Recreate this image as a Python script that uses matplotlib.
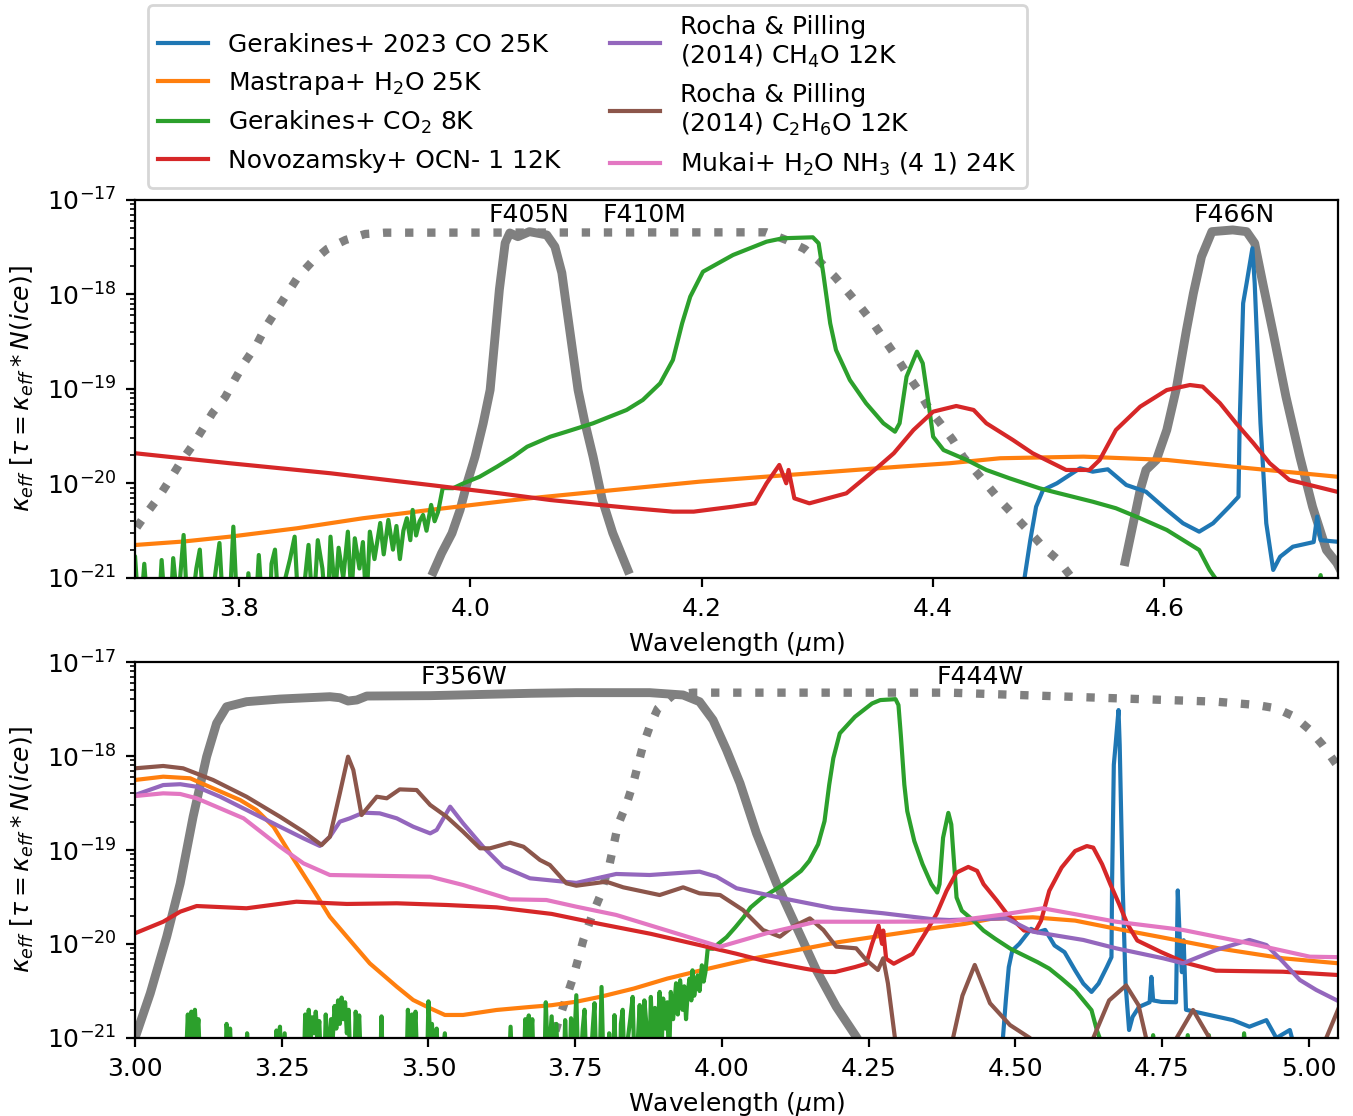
import numpy as np
import matplotlib
matplotlib.use("Agg")
import matplotlib.pyplot as plt

plt.rcParams['font.size'] = 9
plt.rcParams['xtick.major.size'] = 3.2
plt.rcParams['ytick.major.size'] = 3.2
plt.rcParams['ytick.minor.size'] = 1.8

# ---- data: (wavelength [um], log10 kappa_eff) ----
co = np.array([
    (4.47, -21.5), (4.479, -21.0), (4.484, -20.598), (4.489, -20.246), (4.495, -20.069),
    (4.507, -19.998), (4.518, -19.91), (4.527, -19.839), (4.538, -19.875), (4.551, -19.85),
    (4.567, -20.016), (4.584, -20.087), (4.602, -20.28), (4.616, -20.421), (4.630, -20.51),
    (4.642, -20.421), (4.656, -20.246), (4.664, -20.14), (4.665, -19.363), (4.668, -18.093),
    (4.671, -17.881), (4.676, -17.511), (4.678, -17.881), (4.683, -19.363), (4.688, -20.421),
    (4.694, -20.915), (4.700, -20.775), (4.711, -20.669), (4.729, -20.62), (4.732, -20.35),
    (4.735, -20.60), (4.749, -20.616), (4.774, -20.62), (4.777, -19.43), (4.781, -20.05),
    (4.784, -20.3), (4.787, -19.96), (4.791, -20.70), (4.82, -20.74), (4.871, -20.81),
    (4.899, -20.88), (4.928, -20.81), (4.945, -21.0), (4.968, -20.915), (4.98, -21.2),
    (5.05, -21.4)])

h2o = np.array([
    (3.00, -18.255), (3.048, -18.22), (3.094, -18.237), (3.133, -18.344), (3.179, -18.468),
    (3.207, -18.574), (3.236, -18.752), (3.264, -19.035), (3.304, -19.426), (3.332, -19.71),
    (3.361, -19.922), (3.40, -20.206), (3.423, -20.33), (3.446, -20.454), (3.474, -20.596),
    (3.503, -20.684), (3.528, -20.755), (3.559, -20.755), (3.616, -20.702), (3.673, -20.67),
    (3.71, -20.651), (3.752, -20.614), (3.792, -20.563), (3.850, -20.474), (3.907, -20.368),
    (3.965, -20.28), (4.025, -20.193), (4.051, -20.157), (4.198, -19.981), (4.313, -19.875),
    (4.371, -19.822), (4.414, -19.786), (4.458, -19.733), (4.530, -19.716), (4.602, -19.751),
    (4.659, -19.822), (4.749, -19.928), (4.85, -20.05), (4.956, -20.152), (5.05, -20.205)])

co2 = np.array([
    (3.00, -21.5), (3.085, -21.5), (3.09, -20.75), (3.093, -21.3), (3.096, -20.72), (3.099, -21.2),
    (3.102, -20.70), (3.105, -21.0), (3.108, -20.80), (3.112, -21.5), (3.153, -21.5), (3.156, -20.85),
    (3.159, -21.1), (3.162, -20.9), (3.166, -21.5), (3.188, -21.5), (3.191, -20.95), (3.194, -21.5),
    (3.238, -21.5), (3.241, -20.92), (3.244, -21.2), (3.247, -20.88), (3.25, -21.5), (3.255, -20.95),
    (3.258, -21.5), (3.287, -21.5), (3.29, -20.75), (3.293, -21.1), (3.296, -20.70), (3.299, -21.0),
    (3.302, -20.78), (3.305, -20.95), (3.308, -20.72), (3.311, -21.0), (3.314, -20.82), (3.318, -21.5),
    (3.322, -21.5), (3.325, -20.75), (3.329, -21.3), (3.334, -20.8), (3.337, -21.0), (3.34, -20.66),
    (3.343, -20.9), (3.346, -20.6), (3.349, -20.85), (3.352, -20.57), (3.355, -20.8), (3.358, -20.62),
    (3.361, -20.95), (3.364, -20.7), (3.368, -21.5), (3.373, -21.5), (3.376, -20.72), (3.379, -21.0),
    (3.382, -20.76), (3.386, -21.5), (3.417, -21.5), (3.42, -20.77), (3.423, -21.5), (3.462, -21.5),
    (3.465, -20.7), (3.468, -21.1), (3.472, -20.75), (3.475, -21.0), (3.478, -20.72), (3.482, -21.5),
    (3.497, -21.5), (3.50, -20.61), (3.503, -21.0), (3.506, -20.85), (3.51, -21.3), (3.514, -20.9),
    (3.518, -21.5), (3.528, -20.95), (3.532, -21.5), (3.636, -21.5), (3.64, -20.88), (3.644, -21.5),
    (3.662, -21.5), (3.665, -20.8), (3.668, -21.0), (3.671, -20.76), (3.674, -21.0), (3.677, -20.8),
    (3.68, -21.5), (3.697, -21.5), (3.70, -20.62), (3.704, -21.3), (3.71, -20.77), (3.714, -21.5),
    (3.718, -20.85), (3.722, -21.5), (3.730, -21.5), (3.733, -20.81), (3.737, -21.5), (3.740, -21.5),
    (3.743, -20.79), (3.747, -21.3), (3.752, -20.545), (3.756, -21.5), (3.760, -21.2), (3.763, -20.9),
    (3.766, -20.70), (3.769, -21.3), (3.774, -21.5), (3.78, -20.9), (3.783, -20.63), (3.787, -21.5),
    (3.791, -21.5), (3.795, -20.457), (3.799, -21.5), (3.805, -21.5), (3.808, -20.95), (3.812, -21.5),
    (3.815, -21.2), (3.817, -20.757), (3.821, -21.5), (3.826, -21.5), (3.828, -20.85), (3.831, -20.70),
    (3.835, -21.5), (3.84, -21.0), (3.844, -20.8), (3.848, -20.563), (3.852, -21.5), (3.857, -21.0),
    (3.86, -20.65), (3.864, -21.4), (3.868, -20.60), (3.872, -20.9), (3.876, -21.5), (3.879, -20.563),
    (3.883, -21.2), (3.886, -20.68), (3.89, -21.0), (3.894, -20.51), (3.897, -21.2), (3.90, -20.58),
    (3.904, -20.9), (3.907, -20.62), (3.91, -21.3), (3.913, -20.51), (3.917, -20.8), (3.922, -20.418),
    (3.925, -20.75), (3.929, -20.386), (3.933, -20.7), (3.936, -20.45), (3.939, -20.8), (3.942, -20.5),
    (3.945, -20.368), (3.948, -20.6), (3.950, -20.28), (3.953, -20.55), (3.956, -20.4), (3.959, -20.333),
    (3.962, -20.5), (3.966, -20.227), (3.969, -20.4), (3.972, -20.3), (3.976, -20.048), (3.985, -20.05),
    (3.994, -19.998), (4.008, -19.928), (4.023, -19.822), (4.037, -19.716), (4.049, -19.611),
    (4.069, -19.505), (4.083, -19.452), (4.106, -19.363), (4.135, -19.222), (4.149, -19.116),
    (4.164, -18.94), (4.175, -18.693), (4.183, -18.305), (4.190, -18.023), (4.201, -17.759),
    (4.227, -17.582), (4.256, -17.441), (4.270, -17.405), (4.296, -17.395), (4.301, -17.458),
    (4.305, -17.776), (4.311, -18.305), (4.316, -18.587), (4.328, -18.905), (4.342, -19.151),
    (4.357, -19.363), (4.367, -19.452), (4.371, -19.363), (4.377, -18.87), (4.386, -18.605),
    (4.391, -18.728), (4.396, -19.151), (4.400, -19.505), (4.409, -19.646), (4.429, -19.751),
    (4.446, -19.857), (4.466, -19.945), (4.492, -20.051), (4.509, -20.104), (4.538, -20.193),
    (4.558, -20.262), (4.579, -20.368), (4.602, -20.492), (4.616, -20.598), (4.630, -20.704),
    (4.639, -20.915), (4.645, -21.02), (4.65, -21.1), (4.66, -21.3), (4.70, -21.3), (4.732, -21.1),
    (4.735, -20.97), (4.738, -21.2), (4.79, -21.2), (4.794, -20.97), (4.798, -21.2), (4.828, -21.2),
    (4.83, -20.97), (4.835, -21.3), (4.887, -21.3), (4.89, -20.95), (4.895, -21.3), (5.05, -21.4)])

ocn = np.array([
    (3.00, -19.886), (3.048, -19.763), (3.077, -19.656), (3.105, -19.596), (3.19, -19.62),
    (3.275, -19.55), (3.361, -19.574), (3.446, -19.567), (3.531, -19.585), (3.616, -19.61),
    (3.71, -19.68), (3.792, -19.786), (3.879, -19.892), (3.965, -20.016), (4.025, -20.104),
    (4.069, -20.175), (4.112, -20.228), (4.141, -20.262), (4.175, -20.298), (4.193, -20.298),
    (4.227, -20.245), (4.246, -20.21), (4.256, -19.998), (4.267, -19.804), (4.273, -19.998),
    (4.275, -19.857), (4.28, -20.157), (4.293, -20.21), (4.325, -20.104), (4.351, -19.84),
    (4.366, -19.68), (4.383, -19.434), (4.40, -19.24), (4.42, -19.18), (4.435, -19.222),
    (4.446, -19.363), (4.469, -19.54), (4.486, -19.68), (4.515, -19.857), (4.535, -19.857),
    (4.544, -19.751), (4.558, -19.434), (4.579, -19.187), (4.602, -19.011), (4.622, -18.958),
    (4.633, -18.975), (4.648, -19.151), (4.662, -19.363), (4.677, -19.575), (4.691, -19.786),
    (4.708, -19.963), (4.749, -20.087), (4.79, -20.20), (4.842, -20.284), (4.956, -20.295),
    (5.05, -20.33)])

ch4o = np.array([
    (3.00, -18.415), (3.048, -18.309), (3.077, -18.30), (3.105, -18.327), (3.145, -18.433),
    (3.19, -18.574), (3.247, -18.752), (3.287, -18.876), (3.315, -18.957), (3.332, -18.859),
    (3.349, -18.699), (3.366, -18.663), (3.389, -18.603), (3.417, -18.61), (3.446, -18.663),
    (3.474, -18.752), (3.503, -18.823), (3.514, -18.787), (3.537, -18.539), (3.559, -18.716),
    (3.593, -18.965), (3.627, -19.178), (3.673, -19.301), (3.752, -19.35), (3.82, -19.255),
    (3.877, -19.266), (3.962, -19.23), (3.991, -19.284), (4.025, -19.407), (4.104, -19.514),
    (4.19, -19.62), (4.275, -19.673), (4.36, -19.737), (4.388, -19.745), (4.485, -19.727),
    (4.530, -19.869), (4.616, -19.957), (4.672, -20.046), (4.752, -20.152), (4.786, -20.205),
    (4.842, -20.064), (4.899, -19.957), (4.928, -20.011), (4.956, -20.188), (4.985, -20.383),
    (5.013, -20.489), (5.047, -20.596)])

c2h6o = np.array([
    (3.00, -18.131), (3.048, -18.106), (3.082, -18.131), (3.133, -18.255), (3.19, -18.433),
    (3.247, -18.646), (3.287, -18.805), (3.318, -18.947), (3.332, -18.859), (3.349, -18.397),
    (3.363, -18.007), (3.372, -18.149), (3.386, -18.628), (3.412, -18.433), (3.429, -18.45),
    (3.451, -18.355), (3.48, -18.362), (3.503, -18.521), (3.531, -18.646), (3.559, -18.805),
    (3.588, -18.982), (3.605, -18.982), (3.639, -18.922), (3.662, -18.965), (3.69, -19.106),
    (3.707, -19.16), (3.735, -19.354), (3.752, -19.38), (3.803, -19.337), (3.832, -19.397),
    (3.894, -19.479), (3.934, -19.397), (3.962, -19.461), (3.997, -19.479), (4.036, -19.638),
    (4.07, -19.851), (4.099, -19.922), (4.121, -19.816), (4.15, -19.727), (4.173, -19.851),
    (4.195, -20.028), (4.229, -20.046), (4.246, -20.17), (4.266, -20.277), (4.275, -20.152),
    (4.283, -20.418), (4.295, -21.0), (4.31, -21.6), (4.38, -21.6), (4.394, -21.0),
    (4.41, -20.55), (4.431, -20.223), (4.457, -20.63), (4.491, -20.862), (4.525, -21.0),
    (4.54, -21.6), (4.62, -21.6), (4.633, -21.0), (4.66, -20.6), (4.689, -20.44), (4.71, -20.65),
    (4.723, -21.0), (4.74, -21.6), (4.765, -21.6), (4.775, -21.0), (4.803, -20.702),
    (4.831, -21.0), (4.85, -21.6), (5.01, -21.6), (5.03, -21.0), (5.05, -20.7)])

mukai = np.array([
    (3.00, -18.426), (3.048, -18.397), (3.077, -18.404), (3.105, -18.45), (3.185, -18.663),
    (3.247, -18.965), (3.287, -19.142), (3.332, -19.266), (3.503, -19.284), (3.559, -19.372),
    (3.639, -19.525), (3.701, -19.532), (3.752, -19.603), (3.82, -19.691), (3.997, -20.029),
    (4.076, -19.886), (4.161, -19.763), (4.275, -19.763), (4.388, -19.76), (4.474, -19.691),
    (4.547, -19.62), (4.672, -19.763), (4.786, -19.851), (4.899, -19.993), (5.002, -20.135),
    (5.05, -20.14)])

# filter transmission curves (scaled, log10)
f405n = np.array([
    (3.968, -20.933), (3.975, -20.739), (3.984, -20.527), (3.991, -20.28), (3.997, -19.998),
    (4.004, -19.716), (4.011, -19.363), (4.017, -19.01), (4.021, -18.481), (4.025, -17.947),
    (4.030, -17.455), (4.034, -17.349), (4.041, -17.388), (4.051, -17.335), (4.066, -17.37),
    (4.073, -17.494), (4.079, -17.772), (4.083, -18.129), (4.087, -18.481), (4.093, -19.01),
    (4.099, -19.36), (4.106, -19.716), (4.114, -20.175), (4.123, -20.524), (4.136, -20.915)])

f410m = np.array([
    (3.700, -20.65), (3.710, -20.49), (3.720, -20.315), (3.730, -20.153), (3.740, -19.963),
    (3.749, -19.783), (3.759, -19.61), (3.768, -19.434), (3.777, -19.254), (3.788, -19.085),
    (3.796, -18.905), (3.805, -18.714), (3.815, -18.534), (3.823, -18.344), (3.833, -18.153),
    (3.842, -17.981), (3.851, -17.812), (3.863, -17.653), (3.876, -17.519), (3.892, -17.423),
    (3.909, -17.36), (3.926, -17.346), (4.256, -17.342), (4.273, -17.423), (4.289, -17.519),
    (4.302, -17.653), (4.315, -17.812), (4.326, -17.97), (4.337, -18.129), (4.348, -18.30),
    (4.358, -18.48), (4.368, -18.658), (4.378, -18.85), (4.387, -19.01), (4.397, -19.22),
    (4.406, -19.36), (4.417, -19.54), (4.426, -19.72), (4.438, -19.89), (4.449, -20.05),
    (4.460, -20.21), (4.472, -20.365), (4.484, -20.52), (4.495, -20.67), (4.508, -20.81),
    (4.520, -21.0), (4.530, -21.12)])

f466n = np.array([
    (4.566, -20.827), (4.573, -20.421), (4.579, -20.069), (4.584, -19.857), (4.593, -19.751),
    (4.602, -19.434), (4.610, -19.011), (4.619, -18.376), (4.625, -17.987), (4.632, -17.6),
    (4.641, -17.335), (4.659, -17.317), (4.671, -17.335), (4.678, -17.458), (4.685, -17.881),
    (4.694, -18.41), (4.705, -19.081), (4.717, -19.716), (4.728, -20.246), (4.740, -20.704),
    (4.749, -20.841), (4.760, -21.1)])

f356w = np.array([
    (2.99, -21.2), (3.00, -21.0), (3.026, -20.524), (3.054, -19.922), (3.077, -19.354),
    (3.099, -18.646), (3.122, -18.007), (3.139, -17.652), (3.156, -17.476), (3.19, -17.422),
    (3.247, -17.394), (3.332, -17.369), (3.349, -17.38), (3.363, -17.415), (3.378, -17.404),
    (3.395, -17.362), (3.503, -17.358), (3.673, -17.333), (3.752, -17.326), (3.877, -17.326),
    (3.934, -17.351), (3.962, -17.422), (3.985, -17.617), (4.008, -17.936), (4.031, -18.29),
    (4.059, -18.822), (4.093, -19.354), (4.127, -19.816), (4.161, -20.277), (4.195, -20.667),
    (4.229, -20.986), (4.24, -21.1)])

f444w = np.array([
    (3.705, -21.15), (3.713, -21.0), (3.724, -20.773), (3.747, -20.348), (3.764, -19.957),
    (3.778, -19.71), (3.792, -19.497), (3.809, -19.142), (3.823, -18.734), (3.838, -18.503),
    (3.849, -18.29), (3.857, -18.096), (3.866, -17.883), (3.877, -17.688), (3.891, -17.493),
    (3.917, -17.351), (3.951, -17.326), (4.388, -17.326), (4.672, -17.386), (4.842, -17.422),
    (4.911, -17.457), (4.945, -17.493), (4.976, -17.582), (5.002, -17.723), (5.024, -17.883),
    (5.044, -18.06), (5.06, -18.2)])

species = [
    (co, 'C0', 'Gerakines+ 2023 CO 25K'),
    (h2o, 'C1', 'Mastrapa+ H$_2$O 25K'),
    (co2, 'C2', 'Gerakines+ CO$_2$ 8K'),
    (ocn, 'C3', 'Novozamsky+ OCN- 1 12K'),
    (ch4o, 'C4', 'Rocha & Pilling\n(2014) CH$_4$O 12K'),
    (c2h6o, 'C5', 'Rocha & Pilling\n(2014) C$_2$H$_6$O 12K'),
    (mukai, 'C6', 'Mukai+ H$_2$O NH$_3$ (4 1) 24K'),
]
top_species = 4  # only the first four appear in the top panel

top_filters = [(f405n, '-', 'F405N', 4.0505), (f410m, ':', 'F410M', 4.150), (f466n, '-', 'F466N', 4.660)]
bot_filters = [(f356w, '-', 'F356W', 3.560), (f444w, ':', 'F444W', 4.440)]

# ---- figure ----
fig = plt.figure(figsize=(6.765, 5.58), dpi=200)
ax1 = fig.add_axes([0.0998, 0.4821, 0.8891, 0.3387])
ax2 = fig.add_axes([0.0998, 0.0699, 0.8891, 0.3369])

ylab = r'$\kappa_{eff}$ [$\tau = \kappa_{eff} * N(ice)$]'


def draw_filters(ax, filts):
    for arr, ls, name, xlab in filts:
        if ls == '-':
            ax.plot(arr[:, 0], 10 ** arr[:, 1], color='gray', lw=3.2, ls='-', zorder=1)
        else:
            ax.plot(arr[:, 0], 10 ** arr[:, 1], color='gray', lw=3.0, ls=':', zorder=1)
        ax.text(xlab, 10 ** -17.16, name, ha='center', va='center')


draw_filters(ax1, top_filters)
draw_filters(ax2, bot_filters)

handles = []
for i, (arr, col, lab) in enumerate(species):
    if i < top_species:
        ax1.plot(arr[:, 0], 10 ** arr[:, 1], color=col, lw=1.5, zorder=2)
    h, = ax2.plot(arr[:, 0], 10 ** arr[:, 1], color=col, lw=1.5, zorder=2, label=lab)
    handles.append(h)

for ax in (ax1, ax2):
    ax.set_yscale('log')
    ax.set_ylim(1e-21, 1e-17)
    ax.set_xlabel(r'Wavelength ($\mu$m)', labelpad=3.5)
    ax.set_ylabel(ylab)

ax1.set_xlim(3.71, 4.75)
ax1.set_xticks([3.8, 4.0, 4.2, 4.4, 4.6])
ax2.set_xlim(3.0, 5.05)
ax2.set_xticks([3.0, 3.25, 3.5, 3.75, 4.0, 4.25, 4.5, 4.75, 5.0])
ax2.set_xticklabels(['3.00', '3.25', '3.50', '3.75', '4.00', '4.25', '4.50', '4.75', '5.00'])

fig.legend(handles, [h.get_label() for h in handles], ncol=2, loc='upper left',
           bbox_to_anchor=(148 / 1353, 1 - 5 / 1116), borderaxespad=0)

fig.savefig('out.png', dpi=200)
